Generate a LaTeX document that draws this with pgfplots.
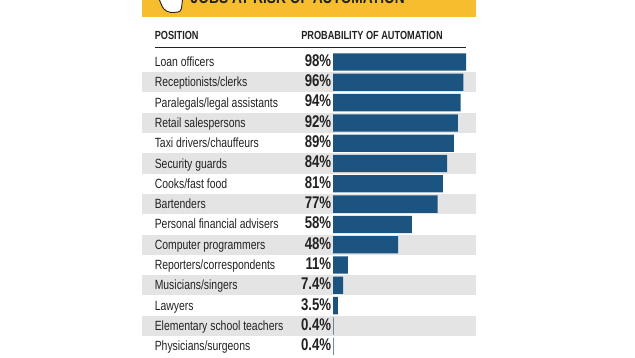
\documentclass[border=0pt]{standalone}
\usepackage{pgfplots}
\pgfplotsset{compat=1.18}
\usepackage{fontspec}
\setmainfont[FakeStretch=0.78]{Liberation Sans}
\definecolor{barblue}{HTML}{1B5480}
\definecolor{band}{HTML}{E4E4E4}
\definecolor{banner}{HTML}{F6BE2E}
\definecolor{ink}{HTML}{222222}
\begin{document}
\begin{tikzpicture}[x=1bp,y=1bp]
\path[use as bounding box] (0,0) rectangle (635,357);
\clip (0,0) rectangle (635,357);
\begin{axis}[
  scale only axis, width=635bp, height=357bp,
  at={(0,0)}, anchor=south west,
  hide axis,
  xmin=-245.4, xmax=222.5,
  ymin=-3.054, ymax=14.53, y dir=reverse,
  xbar, bar width=17.3bp, bar shift=0pt,
  clip=false,
]
\fill[banner] (axis cs:-140.8,-3.06) rectangle (axis cs:105.4,-2.22);
\foreach \r in {1,3,...,13}{
  \edef\tmp{\noexpand\fill[band] (axis cs:-140.8,\r-0.5) rectangle (axis cs:105.4,\r+0.5);}
  \tmp
}
\fill[white,draw=ink,line width=0.9pt,rounded corners=3pt] (axis cs:-129.5,-3.3) -- (axis cs:-125,-2.6) -- (axis cs:-120,-2.42) -- (axis cs:-112,-2.48) -- (axis cs:-110.5,-3.3) -- cycle;
\node[anchor=base west,font=\bfseries\fontsize{17.7}{18}\selectfont,text=ink,inner sep=0pt] at (axis cs:-105,-2.906) {JOBS AT RISK OF AUTOMATION};
\node[anchor=west,font=\bfseries\fontsize{11.8}{13}\selectfont,text=ink,inner sep=0pt] at (axis cs:-131.5,-1.3) {POSITION};
\node[anchor=west,font=\bfseries\fontsize{11.8}{13}\selectfont,text=ink,inner sep=0pt] at (axis cs:-23.5,-1.3) {PROBABILITY OF AUTOMATION};
\draw[ink,line width=0.8pt] (axis cs:-131.5,-0.71) -- (axis cs:98,-0.71);
\addplot[fill=barblue,draw=none] coordinates {
(98,0) (96,1) (94,2) (92,3) (89,4) (84,5) (81,6) (77,7) (58,8) (48,9) (11,10) (7.4,11) (3.5,12) (0.4,13) (0.4,14)};
\foreach \r/\n/\p in {0/Loan officers/98\%,1/Receptionists\slash clerks/96\%,2/Paralegals\slash legal assistants/94\%,3/Retail salespersons/92\%,4/Taxi drivers\slash chauffeurs/89\%,5/Security guards/84\%,6/Cooks\slash fast food/81\%,7/Bartenders/77\%,8/Personal financial advisers/58\%,9/Computer programmers/48\%,10/Reporters\slash correspondents/11\%,11/Musicians\slash singers/7.4\%,12/Lawyers/3.5\%,13/Elementary school teachers/0.4\%,14/Physicians\slash surgeons/0.4\%}{
  \edef\tmp{\noexpand\node[anchor=west,yshift=-1.5bp,font=\noexpand\fontsize{13.4}{15}\noexpand\selectfont,text=ink,inner sep=0pt] at (axis cs:-131.5,\r) {\noexpand\strut\unexpanded\expandafter{\n}};
  \noexpand\node[anchor=east,yshift=-0.8bp,font=\noexpand\bfseries\noexpand\fontsize{17}{18}\noexpand\selectfont,text=ink,inner sep=0pt] at (axis cs:-1.2,\r) {\noexpand\strut\unexpanded\expandafter{\p}};}
  \tmp
}
\end{axis}
\end{tikzpicture}
\end{document}
